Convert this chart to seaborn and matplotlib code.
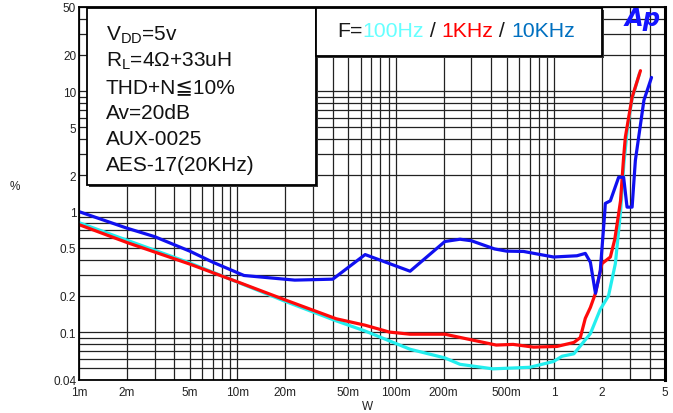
import matplotlib
matplotlib.use("Agg")
import matplotlib.pyplot as plt
import matplotlib.ticker as mticker
from matplotlib.patches import Rectangle
import seaborn as sns
import numpy as np

# --- data (W, %) ---
cyan_w = [0.001, 0.002, 0.005, 0.01, 0.02, 0.042, 0.064, 0.123, 0.204, 0.254, 0.41,
          0.70, 0.99, 1.12, 1.33, 1.69, 1.95, 2.2, 2.43, 2.62, 2.75, 2.9, 3.1, 3.45]
cyan_thd = [0.81, 0.58, 0.375, 0.26, 0.18, 0.124, 0.102, 0.072, 0.061, 0.054, 0.0495,
            0.051, 0.057, 0.063, 0.066, 0.097, 0.154, 0.2, 0.37, 1.0, 2.5, 5.0, 8.7, 14.0]

red_w = [0.001, 0.002, 0.005, 0.0105, 0.02, 0.042, 0.064, 0.091, 0.123, 0.204, 0.29,
         0.43, 0.55, 0.74, 1.04, 1.33, 1.46, 1.57, 1.69, 1.82, 2.0, 2.26, 2.41, 2.53,
         2.62, 2.74, 2.81, 3.10, 3.5]
red_thd = [0.78, 0.555, 0.367, 0.255, 0.185, 0.129, 0.114, 0.10, 0.096, 0.096, 0.087,
           0.078, 0.079, 0.075, 0.076, 0.082, 0.09, 0.13, 0.16, 0.21, 0.37, 0.42, 0.59,
           0.90, 1.23, 2.83, 4.16, 8.9, 14.8]

blue_w = [0.001, 0.002, 0.003, 0.005, 0.007, 0.011, 0.023, 0.040, 0.064, 0.123, 0.204,
          0.254, 0.30, 0.42, 0.50, 0.64, 0.99, 1.39, 1.57, 1.69, 1.82, 1.95, 2.08, 2.10,
          2.26, 2.55, 2.74, 2.88, 3.10, 3.25, 3.68, 4.11]
blue_thd = [1.0, 0.73, 0.62, 0.47, 0.38, 0.295, 0.27, 0.275, 0.44, 0.32, 0.565,
            0.59, 0.573, 0.49, 0.47, 0.467, 0.42, 0.43, 0.45, 0.38, 0.21, 0.32, 0.96, 1.17,
            1.23, 1.93, 1.93, 1.09, 1.09, 2.66, 8.4, 13.0]

xtick_vals = [0.001, 0.002, 0.005, 0.01, 0.02, 0.05, 0.1, 0.2, 0.5, 1, 2, 5]
xtick_labels = ["1m", "2m", "5m", "10m", "20m", "50m", "100m", "200m", "500m", "1", "2", "5"]
ytick_vals = [0.04, 0.1, 0.2, 0.5, 1, 2, 5, 10, 20, 50]
ytick_labels = ["0.04", "0.1", "0.2", "0.5", "1", "2", "5", "10", "20", "50"]

info_lines = ["V$_{DD}$=5v", "R$_{L}$=4\u03a9+33uH", "THD+N\u226610%", "Av=20dB",
              "AUX-0025", "AES-17(20KHz)"]
legend_parts = [("F=", "#1a1a1a"), ("100Hz", "#66ffff"), (" / ", "#1a1a1a"),
                ("1KHz", "#ff0000"), (" / ", "#1a1a1a"), ("10KHz", "#0070c0")]

sns.set_style("white")
plt.rcParams["font.family"] = ["Liberation Sans", "DejaVu Sans"]
plt.rcParams["mathtext.default"] = "regular"

W, H = 673, 414
fig = plt.figure(figsize=(W / 100, H / 100), dpi=100)
ax = fig.add_axes([79 / W, 1 - 381 / H, (665 - 79) / W, (381 - 8) / H])

sns.lineplot(x=cyan_w, y=cyan_thd, ax=ax, color="#22eeee", lw=2.3, sort=False, estimator=None)
sns.lineplot(x=red_w, y=red_thd, ax=ax, color="#ff0a0a", lw=2.3, sort=False, estimator=None)
sns.lineplot(x=blue_w, y=blue_thd, ax=ax, color="#1010f0", lw=2.3, sort=False, estimator=None)

ax.set_xscale("log")
ax.set_yscale("log")
ax.set_xlim(0.001, 5)
ax.set_ylim(0.04, 50)
ax.set_xticks(xtick_vals)
ax.set_xticklabels(xtick_labels)
ax.set_yticks(ytick_vals)
ax.set_yticklabels(ytick_labels)
ax.xaxis.set_minor_locator(mticker.LogLocator(base=10, subs=np.arange(1, 10), numticks=20))
ax.yaxis.set_minor_locator(mticker.LogLocator(base=10, subs=np.arange(1, 10), numticks=20))
ax.xaxis.set_minor_formatter(mticker.NullFormatter())
ax.yaxis.set_minor_formatter(mticker.NullFormatter())
ax.grid(which="both", color="#222222", lw=0.9)
ax.set_axisbelow(True)
ax.tick_params(which="both", length=0, labelsize=8.5, colors="#222222", pad=2)
ax.tick_params(axis="x", pad=4.5)
for s in ax.spines.values():
    s.set_color("black")
    s.set_linewidth(1.3)
ax.spines["right"].set_linewidth(2.2)

ax.set_xlabel("W", fontsize=8.5, color="#222222")
ax.set_ylabel("%", fontsize=8.5, color="#222222", rotation=0)
ax.yaxis.set_label_coords(-64 / (665 - 79), (381 - 193) / (381 - 8))
ax.xaxis.set_label_coords((368 - 79) / (665 - 79), -(401 - 381) / (381 - 8))


def box(x0, y0, x1, y1):
    # pixel coordinates (top-left origin) -> figure fraction, with small drop shadow
    fig.patches.append(Rectangle(((x0 + 2) / W, 1 - (y1 + 2) / H), (x1 - x0) / W, (y1 - y0) / H,
                                 transform=fig.transFigure, facecolor="#333333",
                                 edgecolor="none", zorder=5))
    fig.patches.append(Rectangle((x0 / W, 1 - y1 / H), (x1 - x0) / W, (y1 - y0) / H,
                                 transform=fig.transFigure, facecolor="white",
                                 edgecolor="black", lw=1.3, zorder=6))


box(87, 9, 316, 186)
box(316, 9, 602, 57)

for i, line in enumerate(info_lines):
    fig.text(106 / W, 1 - (41 + 26 * i) / H, line, fontsize=15, color="#111111",
             va="baseline", ha="left", zorder=7)

# multicoloured legend text, pieces laid side by side
renderer = fig.canvas.get_renderer()
xpos = 337
for txt, col in legend_parts:
    t = fig.text(xpos / W, 1 - 37 / H, txt, fontsize=15.3, color=col,
                 va="baseline", ha="left", zorder=7)
    xpos += t.get_window_extent(renderer=renderer).width

fig.text(625 / W, 1 - 26 / H, "Ap", fontsize=17.5, color="#1414ff", fontweight="bold",
         fontstyle="italic", family="DejaVu Sans", va="baseline", ha="left", zorder=7)

fig.savefig("out.png", dpi=100)
